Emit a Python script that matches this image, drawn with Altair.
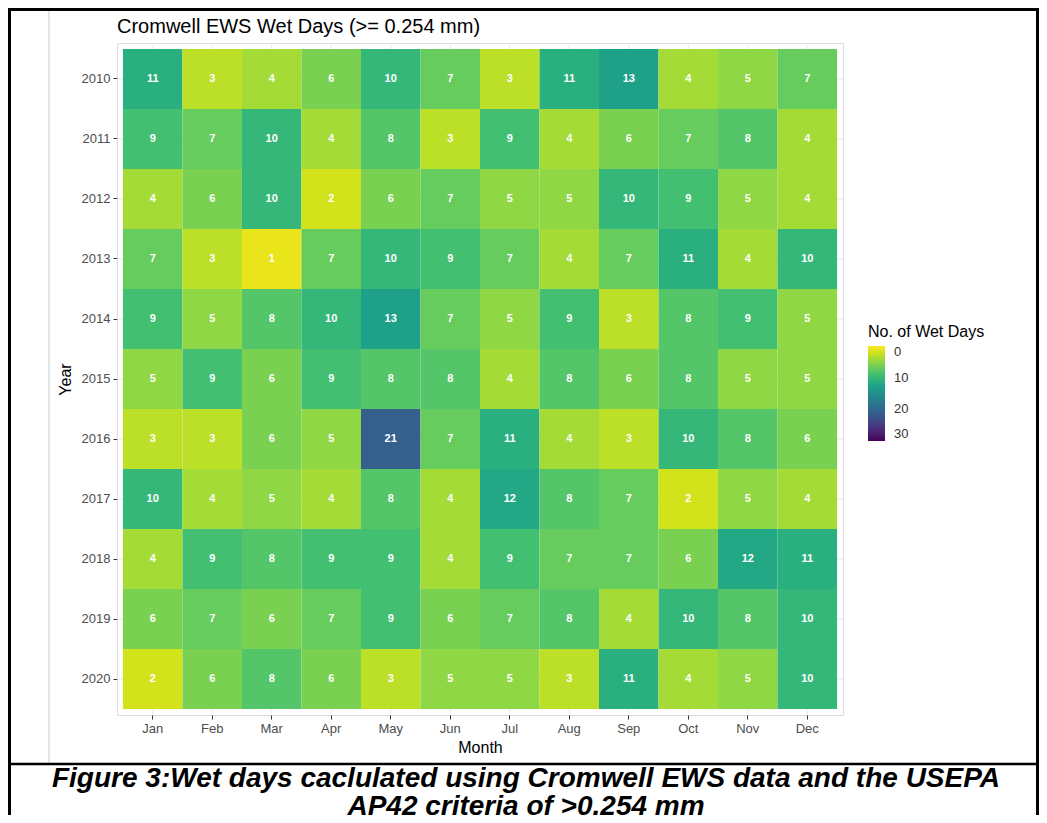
import altair as alt
import pandas as pd

# ---------------- data ----------------
months = ["Jan", "Feb", "Mar", "Apr", "May", "Jun", "Jul", "Aug", "Sep", "Oct", "Nov", "Dec"]
years = [2010, 2011, 2012, 2013, 2014, 2015, 2016, 2017, 2018, 2019, 2020]

wet_2010 = [11, 3, 4, 6, 10, 7, 3, 11, 13, 4, 5, 7]
wet_2011 = [9, 7, 10, 4, 8, 3, 9, 4, 6, 7, 8, 4]
wet_2012 = [4, 6, 10, 2, 6, 7, 5, 5, 10, 9, 5, 4]
wet_2013 = [7, 3, 1, 7, 10, 9, 7, 4, 7, 11, 4, 10]
wet_2014 = [9, 5, 8, 10, 13, 7, 5, 9, 3, 8, 9, 5]
wet_2015 = [5, 9, 6, 9, 8, 8, 4, 8, 6, 8, 5, 5]
wet_2016 = [3, 3, 6, 5, 21, 7, 11, 4, 3, 10, 8, 6]
wet_2017 = [10, 4, 5, 4, 8, 4, 12, 8, 7, 2, 5, 4]
wet_2018 = [4, 9, 8, 9, 9, 4, 9, 7, 7, 6, 12, 11]
wet_2019 = [6, 7, 6, 7, 9, 6, 7, 8, 4, 10, 8, 10]
wet_2020 = [2, 6, 8, 6, 3, 5, 5, 3, 11, 4, 5, 10]

all_rows = [wet_2010, wet_2011, wet_2012, wet_2013, wet_2014, wet_2015,
            wet_2016, wet_2017, wet_2018, wet_2019, wet_2020]

title_text = "Cromwell EWS Wet Days (>= 0.254 mm)"
legend_title = "No. of Wet Days"
legend_values = [0, 10, 20, 30]
color_domain = [30, 0]
caption_lines = [
    "Figure 3:Wet days caclulated using Cromwell EWS data and the USEPA",
    "AP42 criteria of >0.254 mm",
]

year_labels = [str(y) for y in years]
records = []
for yr, vals in zip(year_labels, all_rows):
    for m, v in zip(months, vals):
        records.append({"Year": yr, "Month": m, "Wet": v})
df = pd.DataFrame(records)
df_months = pd.DataFrame({"Month": months})
df_years = pd.DataFrame({"Year": year_labels})

FONT = "Liberation Sans"
PLOT_W, PLOT_H = 726, 672

# ---------------- encodings ----------------
band_scale = alt.Scale(paddingInner=0, paddingOuter=0.1)
x_axis = alt.Axis(labelAngle=0, labelAlign="center", labelBaseline="top",
                  bandPosition=0.5, grid=False,
                  domain=False, tickSize=4, tickColor="#333333",
                  labelFontSize=13, labelColor="#4d4d4d", labelPadding=3,
                  titleFontSize=16, titleFontWeight="normal", titleColor="black",
                  titlePadding=4, labelFont=FONT, titleFont=FONT)
y_axis = alt.Axis(bandPosition=0.5, grid=False, labelAlign="right", labelBaseline="middle",
                  domain=False, tickSize=4, tickColor="#333333",
                  labelFontSize=13, labelColor="#4d4d4d", labelPadding=3,
                  titleFontSize=16, titleFontWeight="normal", titleColor="black",
                  titlePadding=8, labelFont=FONT, titleFont=FONT)
x_enc = alt.X("Month:N", sort=months, title="Month", scale=band_scale, axis=x_axis)
y_enc = alt.Y("Year:O", sort=year_labels, title="Year", scale=band_scale, axis=y_axis)

# grid lines (beneath tiles, visible only in the panel padding)
grid_x = alt.Chart(df_months).mark_rule(color="#ebebeb", strokeWidth=1).encode(x=x_enc)
grid_y = alt.Chart(df_years).mark_rule(color="#ebebeb", strokeWidth=1).encode(y=y_enc)

base = alt.Chart(df)

heat = base.mark_rect().encode(
    x=x_enc,
    y=y_enc,
    color=alt.Color(
        "Wet:Q",
        scale=alt.Scale(scheme="viridis", domain=color_domain),
        legend=alt.Legend(
            title=legend_title, values=legend_values, orient="none",
            legendX=751, legendY=281, direction="vertical",
            gradientLength=95, gradientThickness=17,
            titleFontSize=16, titleFontWeight="normal", titleColor="black",
            titleFont=FONT, labelFont=FONT, labelFontSize=13,
            labelColor="#333333", titlePadding=6, labelOffset=9,
        ),
    ),
)

labels = base.mark_text(color="white", fontWeight="bold", fontSize=11, font=FONT).encode(
    x=x_enc,
    y=y_enc,
    text=alt.Text("Wet:Q"),
)

# ---------------- frame, title & caption decorations ----------------
one = alt.Data(values=[{"k": 1}])


def hline(y, x1, x2, color, w):
    return alt.Chart(one).mark_rule(color=color, strokeWidth=w).encode(
        x=alt.value(x1), x2=alt.value(x2), y=alt.value(y))


def vline(x, y1, y2, color, w):
    return alt.Chart(one).mark_rule(color=color, strokeWidth=w).encode(
        x=alt.value(x), y=alt.value(y1), y2=alt.value(y2))


frame = [
    vline(-68, -35, 720, "#cccccc", 1),
    hline(-33.5, -109, 922, "black", 3),
    vline(-107.5, -35, 772, "black", 3),
    vline(920.5, -35, 772, "black", 3),
    hline(721, -109, 922, "black", 2.5),
]

title_mark = alt.Chart(one).mark_text(
    font=FONT, fontSize=20, fontWeight="normal", align="left",
    baseline="alphabetic", color="black").encode(
    x=alt.value(0), y=alt.value(-10), text=alt.value(title_text))

caption = [
    alt.Chart(one).mark_text(font=FONT, fontSize=28, fontWeight="bold", fontStyle="italic",
                             align="center", baseline="alphabetic", color="black").encode(
        x=alt.value(409), y=alt.value(744), text=alt.value(caption_lines[0])),
    alt.Chart(one).mark_text(font=FONT, fontSize=28, fontWeight="bold", fontStyle="italic",
                             align="center", baseline="alphabetic", color="black").encode(
        x=alt.value(409), y=alt.value(772), text=alt.value(caption_lines[1])),
]

chart = alt.layer(grid_x, grid_y, heat, labels, *frame, title_mark, *caption).properties(
    width=PLOT_W,
    height=PLOT_H,
    autosize=alt.AutoSizeParams(type="none"),
    padding={"left": 109, "top": 35, "right": 196, "bottom": 100},
).configure_view(
    stroke="#888888", strokeWidth=1.2
).configure(background="white")

chart.save("out.html", embed_options={"renderer": "svg", "actions": False})
